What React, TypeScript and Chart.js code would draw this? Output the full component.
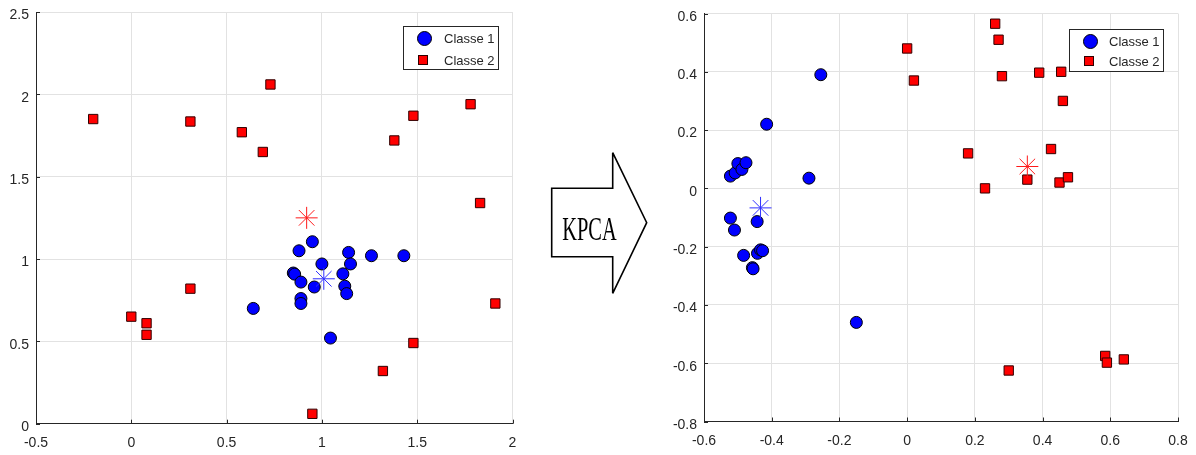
import React, { useEffect, useRef } from "react";
import { Chart, registerables } from "chart.js";

Chart.register(...registerables);

type P = { x: number; y: number };

// ---------------- data: original space (left) ----------------
const leftClass1: P[] = [
  { x: 0.64, y: 0.7 }, { x: 0.95, y: 1.105 }, { x: 0.88, y: 1.05 }, { x: 1.0, y: 0.97 },
  { x: 0.85, y: 0.915 }, { x: 0.857, y: 0.908 }, { x: 0.89, y: 0.86 }, { x: 0.96, y: 0.83 },
  { x: 0.89, y: 0.76 }, { x: 0.89, y: 0.73 }, { x: 1.045, y: 0.52 }, { x: 1.14, y: 1.04 },
  { x: 1.15, y: 0.97 }, { x: 1.11, y: 0.91 }, { x: 1.12, y: 0.835 }, { x: 1.13, y: 0.79 },
  { x: 1.26, y: 1.02 }, { x: 1.43, y: 1.02 },
];
const leftClass2: P[] = [
  { x: -0.2, y: 1.85 }, { x: 0.31, y: 1.835 }, { x: 0.73, y: 2.06 }, { x: 0.58, y: 1.77 },
  { x: 0.69, y: 1.65 }, { x: 1.38, y: 1.72 }, { x: 1.48, y: 1.87 }, { x: 1.78, y: 1.94 },
  { x: 1.83, y: 1.34 }, { x: 1.91, y: 0.73 }, { x: 0.31, y: 0.82 }, { x: 0.0, y: 0.65 },
  { x: 0.08, y: 0.61 }, { x: 0.08, y: 0.54 }, { x: 1.48, y: 0.49 }, { x: 1.32, y: 0.32 },
  { x: 0.95, y: 0.06 },
];
const leftCenter1: P[] = [{ x: 1.01, y: 0.88 }];
const leftCenter2: P[] = [{ x: 0.92, y: 1.25 }];
const leftXTicks = [-0.5, 0, 0.5, 1, 1.5, 2];
const leftYTicks = [0, 0.5, 1, 1.5, 2, 2.5];

// ---------------- data: KPCA space (right) ----------------
const rightClass1: P[] = [
  { x: -0.255, y: 0.39 }, { x: -0.415, y: 0.22 }, { x: -0.29, y: 0.035 }, { x: -0.15, y: -0.46 },
  { x: -0.522, y: 0.042 }, { x: -0.508, y: 0.053 }, { x: -0.5, y: 0.085 }, { x: -0.488, y: 0.065 },
  { x: -0.476, y: 0.088 }, { x: -0.522, y: -0.102 }, { x: -0.51, y: -0.143 }, { x: -0.443, y: -0.114 },
  { x: -0.483, y: -0.23 }, { x: -0.457, y: -0.272 }, { x: -0.455, y: -0.276 }, { x: -0.442, y: -0.223 },
  { x: -0.433, y: -0.211 }, { x: -0.427, y: -0.214 },
];
const rightClass2: P[] = [
  { x: 0.0, y: 0.48 }, { x: 0.02, y: 0.37 }, { x: 0.26, y: 0.565 }, { x: 0.27, y: 0.51 },
  { x: 0.28, y: 0.385 }, { x: 0.39, y: 0.397 }, { x: 0.455, y: 0.4 }, { x: 0.46, y: 0.3 },
  { x: 0.18, y: 0.12 }, { x: 0.425, y: 0.135 }, { x: 0.23, y: 0.0 }, { x: 0.355, y: 0.03 },
  { x: 0.45, y: 0.02 }, { x: 0.475, y: 0.038 }, { x: 0.3, y: -0.625 }, { x: 0.585, y: -0.575 },
  { x: 0.59, y: -0.598 }, { x: 0.64, y: -0.587 },
];
const rightCenter1: P[] = [{ x: -0.433, y: -0.067 }];
const rightCenter2: P[] = [{ x: 0.355, y: 0.075 }];
const rightXTicks = [-0.6, -0.4, -0.2, 0, 0.2, 0.4, 0.6, 0.8];
const rightYTicks = [-0.8, -0.6, -0.4, -0.2, 0, 0.2, 0.4, 0.6];

const legendLabels = ["Classe 1", "Classe 2"];
const arrowLabel = "KPCA";

// ---------------- layout ----------------
const FONT = '"Liberation Sans", Arial, Helvetica, sans-serif';
const TEXT = "#262626";
const GRID = "#e2e2e2";

type PanelCfg = {
  left: number;
  width: number;
  height: number;
  area: { left: number; right: number; top: number; bottom: number };
  xTicks: number[];
  yTicks: number[];
  class1: P[];
  class2: P[];
  center1: P[];
  center2: P[];
  legend: { left: number; top: number; width: number; height: number; row1: number; row2: number; textX: number };
};

const leftPanel: PanelCfg = {
  left: 0,
  width: 530,
  height: 455,
  area: { left: 36, right: 512.5, top: 10, bottom: 423.7 },
  xTicks: leftXTicks,
  yTicks: leftYTicks,
  class1: leftClass1,
  class2: leftClass2,
  center1: leftCenter1,
  center2: leftCenter2,
  legend: { left: 403, top: 26, width: 96, height: 44, row1: 11.5, row2: 33.5, textX: 40 },
};

const rightPanel: PanelCfg = {
  left: 640,
  width: 556,
  height: 455,
  area: { left: 64, right: 538, top: 13.5, bottom: 421.5 },
  xTicks: rightXTicks,
  yTicks: rightYTicks,
  class1: rightClass1,
  class2: rightClass2,
  center1: rightCenter1,
  center2: rightCenter2,
  legend: { left: 1069, top: 29, width: 95, height: 43, row1: 11.5, row2: 31.5, textX: 39 },
};

const fmt = (v: number) => {
  const r = Math.round(v * 10) / 10;
  return r === 0 ? "0" : String(r);
};

const innerTicks = {
  id: "innerTicks",
  beforeDatasetsDraw(chart: any) {
    const { ctx, chartArea: a, scales } = chart;
    const x = scales.x;
    const y = scales.y;
    ctx.save();
    ctx.strokeStyle = TEXT;
    ctx.lineWidth = 1;
    ctx.beginPath();
    x.ticks.forEach((t: any) => {
      const px = Math.round(x.getPixelForValue(t.value)) + 0.5;
      ctx.moveTo(px, a.bottom);
      ctx.lineTo(px, a.bottom - 4);
    });
    y.ticks.forEach((t: any) => {
      const py = Math.round(y.getPixelForValue(t.value)) + 0.5;
      ctx.moveTo(a.left, py);
      ctx.lineTo(a.left + 4, py);
    });
    ctx.stroke();
    ctx.restore();
  },
};

function ScatterPanel({ cfg }: { cfg: PanelCfg }) {
  const ref = useRef<HTMLCanvasElement>(null);
  useEffect(() => {
    const xs = cfg.xTicks;
    const ys = cfg.yTicks;
    const chart = new Chart(ref.current as HTMLCanvasElement, {
      type: "scatter",
      data: {
        datasets: [
          {
            label: "Centre 2",
            data: cfg.center2,
            pointStyle: "star",
            pointRadius: 11,
            pointBorderColor: "#ff1a1a",
            pointBackgroundColor: "rgba(0,0,0,0)",
            pointBorderWidth: 1,
          },
          {
            label: "Centre 1",
            data: cfg.center1,
            pointStyle: "star",
            pointRadius: 11,
            pointBorderColor: "#3030ff",
            pointBackgroundColor: "rgba(0,0,0,0)",
            pointBorderWidth: 1,
          },
          {
            label: legendLabels[1],
            data: cfg.class2,
            pointStyle: "rect",
            pointRadius: 6.6,
            pointBackgroundColor: "#ff0000",
            pointBorderColor: "#300000",
            pointBorderWidth: 1,
          },
          {
            label: legendLabels[0],
            data: cfg.class1,
            pointStyle: "circle",
            pointRadius: 6,
            pointBackgroundColor: "#0000ff",
            pointBorderColor: "#000000",
            pointBorderWidth: 1,
          },
        ] as any,
      },
      options: {
        responsive: false,
        animation: false,
        events: [],
        layout: {
          padding: { left: 0, top: cfg.area.top, right: cfg.width - cfg.area.right, bottom: 0 },
        },
        plugins: { legend: { display: false }, tooltip: { enabled: false } },
        scales: {
          x: {
            type: "linear",
            position: "bottom",
            min: xs[0],
            max: xs[xs.length - 1],
            afterBuildTicks: (s: any) => {
              s.ticks = xs.map((v) => ({ value: v }));
            },
            afterFit: (s: any) => {
              s.height = cfg.height - cfg.area.bottom;
              s.paddingLeft = 0;
              s.paddingRight = 0;
            },
            grid: { color: GRID, drawTicks: false, lineWidth: 1 },
            border: { color: TEXT, width: 1 },
            ticks: {
              padding: 11,
              color: TEXT,
              font: { family: FONT, size: 14 },
              autoSkip: false,
              maxRotation: 0,
              callback: (v: any) => fmt(Number(v)),
            },
          },
          y: {
            type: "linear",
            position: "left",
            min: ys[0],
            max: ys[ys.length - 1],
            afterBuildTicks: (s: any) => {
              s.ticks = ys.map((v) => ({ value: v }));
            },
            afterFit: (s: any) => {
              s.width = cfg.area.left;
              s.paddingTop = 0;
              s.paddingBottom = 0;
            },
            grid: { color: GRID, drawTicks: false, lineWidth: 1 },
            border: { color: TEXT, width: 1 },
            ticks: {
              padding: 7,
              labelOffset: 3.5,
              color: TEXT,
              font: { family: FONT, size: 14 },
              autoSkip: false,
              callback: (v: any) => fmt(Number(v)),
            },
          },
        } as any,
      },
      plugins: [innerTicks],
    });
    return () => chart.destroy();
  }, [cfg]);
  return (
    <canvas
      ref={ref}
      width={cfg.width}
      height={cfg.height}
      style={{ position: "absolute", left: cfg.left, top: 0, width: cfg.width, height: cfg.height }}
    />
  );
}

function Legend({ cfg }: { cfg: PanelCfg }) {
  const L = cfg.legend;
  const textStyle: React.CSSProperties = {
    position: "absolute",
    left: L.textX,
    transform: "translateY(-50%)",
    font: `13px ${FONT}`,
    lineHeight: "15px",
    color: TEXT,
    whiteSpace: "nowrap",
  };
  return (
    <div
      style={{
        position: "absolute",
        left: L.left,
        top: L.top,
        width: L.width,
        height: L.height,
        boxSizing: "border-box",
        border: `1px solid ${TEXT}`,
        background: "#fff",
      }}
    >
      <div
        style={{
          position: "absolute",
          left: 20 - 6.5 - 1,
          top: L.row1 - 6.5 - 1,
          width: 13,
          height: 13,
          borderRadius: "50%",
          background: "#0000ff",
          border: "1px solid #000",
        }}
      />
      <div style={{ ...textStyle, top: L.row1 - 1 }}>{legendLabels[0]}</div>
      <div
        style={{
          position: "absolute",
          left: 20 - 5 - 1,
          top: L.row2 - 5 - 1,
          width: 10,
          height: 10,
          boxSizing: "border-box",
          background: "#ff0000",
          border: "1px solid #300000",
        }}
      />
      <div style={{ ...textStyle, top: L.row2 - 1 }}>{legendLabels[1]}</div>
    </div>
  );
}

function Arrow() {
  return (
    <svg
      width={1196}
      height={455}
      style={{ position: "absolute", left: 0, top: 0, pointerEvents: "none" }}
    >
      <path
        d="M551.7,188.3 L612.7,188.3 L612.7,152.7 L646.7,222.7 L612.7,293.3 L612.7,256.7 L551.7,256.7 Z"
        fill="#fff"
        stroke="#000"
        strokeWidth={1.6}
        strokeLinejoin="miter"
      />
      <text
        transform="translate(589.5,240) scale(0.6,1)"
        textAnchor="middle"
        fontFamily="'Liberation Serif', 'DejaVu Serif', serif"
        fontSize={34}
        fill="#000"
      >
        {arrowLabel}
      </text>
    </svg>
  );
}

export default function App() {
  return (
    <div
      style={{
        position: "absolute",
        left: 0,
        top: 0,
        width: 1196,
        height: 455,
        background: "#fff",
        overflow: "hidden",
      }}
    >
      <ScatterPanel cfg={leftPanel} />
      <ScatterPanel cfg={rightPanel} />
      <Arrow />
      <Legend cfg={leftPanel} />
      <Legend cfg={rightPanel} />
    </div>
  );
}
